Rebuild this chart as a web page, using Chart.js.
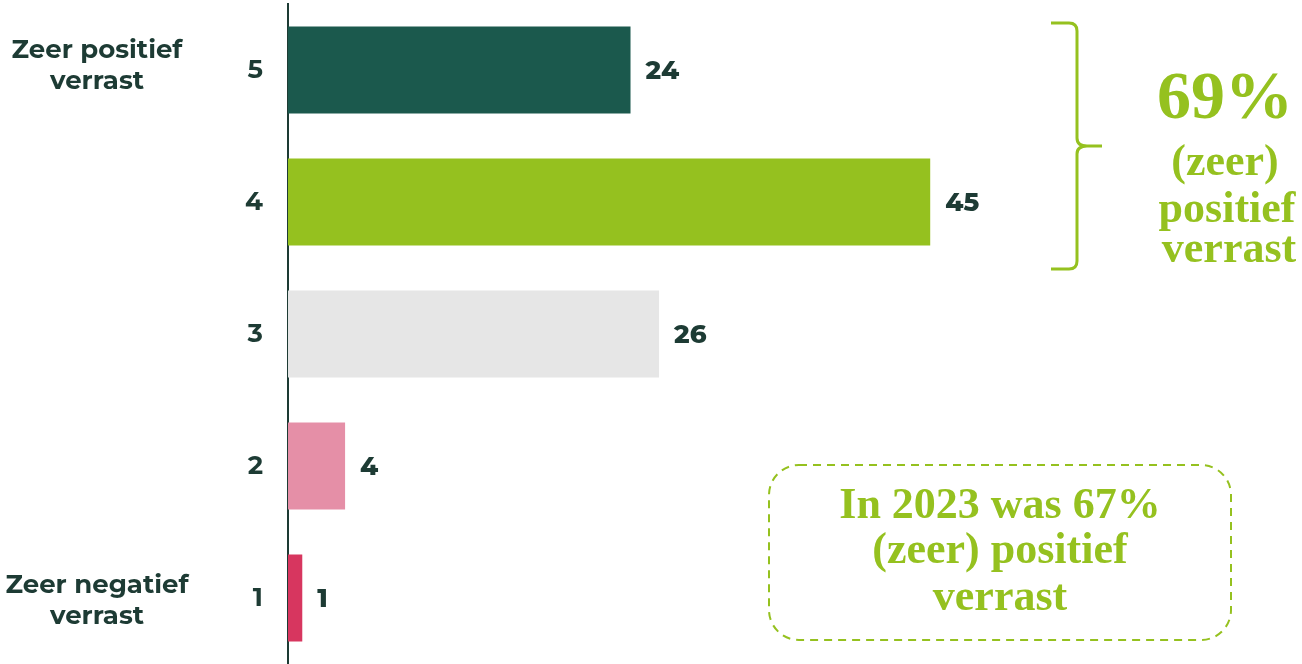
<!DOCTYPE html>
<html>
<head>
<meta charset="utf-8">
<script src="https://cdn.jsdelivr.net/npm/chart.js@4"></script>
<style>
  html, body { margin: 0; padding: 0; background: #fff; }
  .canvas { width: 1302px; height: 664px; }
</style>
</head>
<body>
<div class="canvas"><canvas id="surpriseChart"></canvas></div>
<script>
const categories = ['5', '4', '3', '2', '1'];
const values = [24, 45, 26, 4, 1];
const barColors = ['#1b594d', '#95c11f', '#e6e6e6', '#e58fa7', '#d7365f'];
const sideLabels = { '5': ['Zeer positief', 'verrast'], '1': ['Zeer negatief', 'verrast'] };
const braceText = ['69%', '(zeer)', 'positief', 'verrast'];
const boxText = ['In 2023 was 67%', '(zeer) positief', 'verrast'];

const dark = '#1d3b34';
const lime = '#95c11f';
const sans = '"Montserrat", "Open Sans", sans-serif';
const serif = '"Liberation Serif", "DejaVu Serif", serif';

// extra drawing: value labels, left side labels, brace and dashed box
const annotations = {
  id: 'annotations',
  afterDatasetsDraw(chart) {
    const ctx = chart.ctx;
    const meta = chart.getDatasetMeta(0);
    const yScale = chart.scales.y;

    ctx.save();
    ctx.fillStyle = dark;
    ctx.font = '800 26px ' + sans;
    ctx.textBaseline = 'middle';
    ctx.textAlign = 'left';
    meta.data.forEach((bar, i) => {
      ctx.fillText(String(values[i]), bar.x + 15, bar.y + 1);
    });

    ctx.textAlign = 'center';
    ctx.textBaseline = 'alphabetic';
    ctx.font = '700 26px ' + sans;
    categories.forEach((cat, i) => {
      const lines = sideLabels[cat];
      if (!lines) return;
      const y = yScale.getPixelForValue(i);
      const shift = i === 0 ? -12 : -5;
      ctx.fillText(lines[0], 97, y + shift);
      ctx.fillText(lines[1], 97, y + shift + 31);
    });

    // brace over the two top bars
    const top = meta.data[0].y - 47;
    const bottom = meta.data[1].y + 67;
    const mid = (top + bottom) / 2;
    const bx = 1077;
    ctx.strokeStyle = lime;
    ctx.lineWidth = 3;
    ctx.beginPath();
    ctx.moveTo(1051, top);
    ctx.lineTo(bx - 8, top);
    ctx.quadraticCurveTo(bx, top, bx, top + 8);
    ctx.lineTo(bx, mid - 8);
    ctx.quadraticCurveTo(bx, mid, bx + 10, mid);
    ctx.lineTo(1102, mid);
    ctx.moveTo(bx + 10, mid);
    ctx.quadraticCurveTo(bx, mid, bx, mid + 8);
    ctx.lineTo(bx, bottom - 8);
    ctx.quadraticCurveTo(bx, bottom, bx - 8, bottom);
    ctx.lineTo(1051, bottom);
    ctx.stroke();

    ctx.fillStyle = lime;
    ctx.font = '700 68px ' + serif;
    ctx.fillText(braceText[0], 1225, 118);
    ctx.font = '700 44px ' + serif;
    ctx.fillText(braceText[1], 1225, 175);
    ctx.fillText(braceText[2], 1227, 222);
    ctx.fillText(braceText[3], 1229, 262);

    // dashed box
    ctx.setLineDash([8, 6]);
    ctx.lineWidth = 2;
    ctx.beginPath();
    ctx.roundRect(769, 465, 462, 175, 30);
    ctx.stroke();
    ctx.setLineDash([]);
    ctx.font = '700 44px ' + serif;
    const baselines = [518, 563, 610];
    boxText.forEach((line, i) => {
      ctx.fillText(line, 1000, baselines[i]);
    });
    ctx.restore();
  }
};

const ctx = document.getElementById('surpriseChart').getContext('2d');
new Chart(ctx, {
  type: 'bar',
  data: {
    labels: categories,
    datasets: [{
      data: values,
      backgroundColor: barColors,
      categoryPercentage: 0.66,
      barPercentage: 1
    }]
  },
  options: {
    indexAxis: 'y',
    responsive: true,
    maintainAspectRatio: false,
    animation: false,
    layout: { padding: { top: 4, right: 15, left: 0, bottom: 0 } },
    plugins: {
      legend: { display: false },
      tooltip: { enabled: false }
    },
    scales: {
      x: {
        display: false,
        min: 0,
        max: 70
      },
      y: {
        z: 1,
        grid: { display: false, drawTicks: false },
        border: { display: true, color: dark, width: 2 },
        ticks: {
          color: dark,
          padding: 25,
          font: { family: sans, size: 26, weight: '700' }
        },
        afterFit(scale) {
          scale.width = 288;
          scale.paddingTop = 0;
          scale.paddingBottom = 0;
        }
      }
    }
  },
  plugins: [annotations]
});
</script>
</body>
</html>
